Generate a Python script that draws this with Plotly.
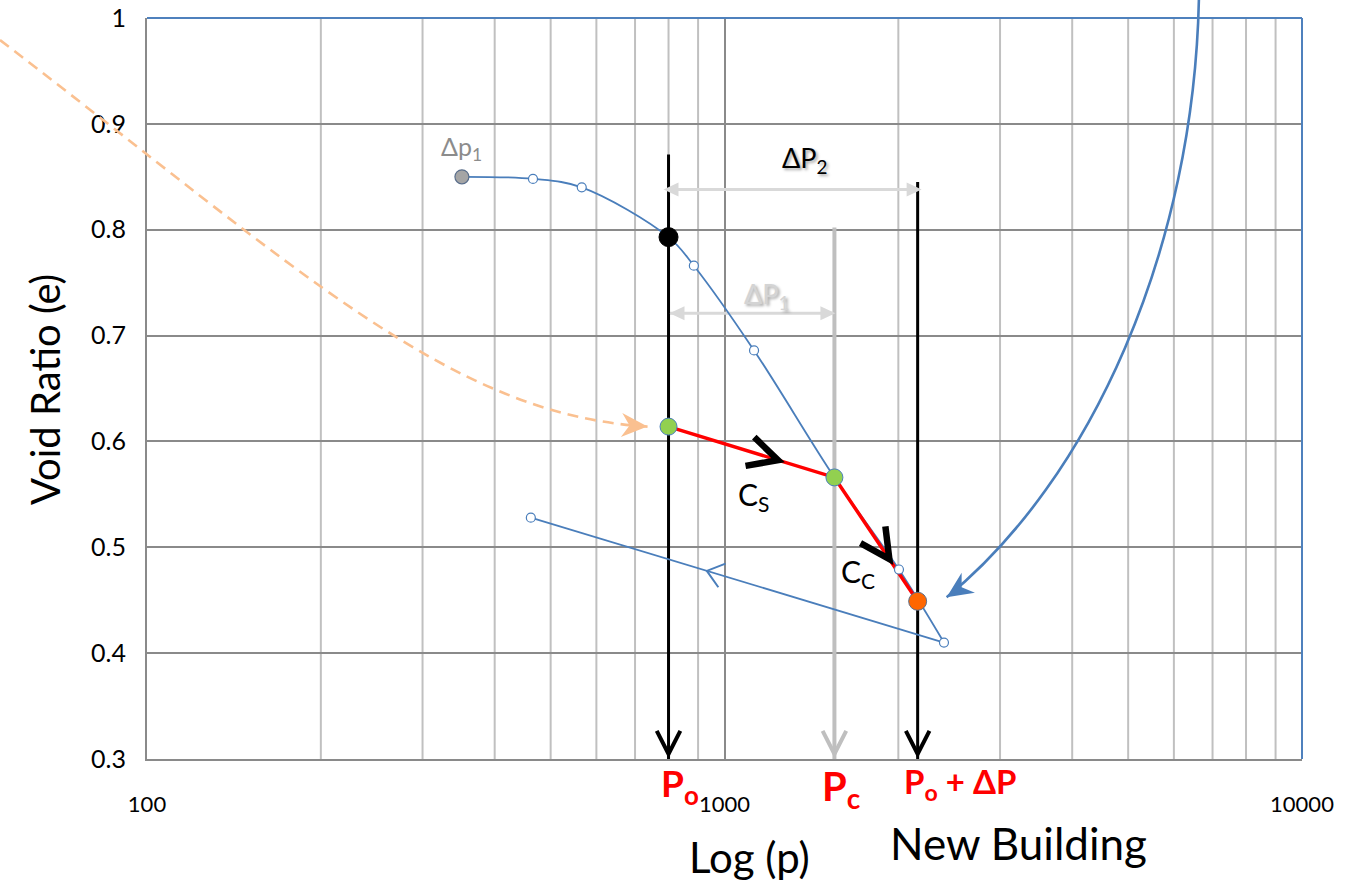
import numpy as np
import plotly.graph_objects as go

# ---------------- data (void ratio e vs. pressure p) ----------------
start_p, start_e = 351, 0.850                      # first load increment (Δp1)
lab_p = [466, 566, 885, 1125, 2005, 2399]          # measured oedometer points
lab_e = [0.848, 0.840, 0.766, 0.686, 0.479, 0.410]
rebound_p = [2399, 462]                            # unloading branch
rebound_e = [0.410, 0.528]

p_o = 800          # current overburden pressure
p_c = 1550         # preconsolidation pressure
p_new = 2160       # p_o + ΔP from the new building
e_lab_po = 0.793   # lab curve void ratio at p_o
field_p = [p_o, p_c, p_new]
field_e = [0.614, 0.566, 0.449]

top_po, top_pc, top_new = 0.871, 0.802, 0.845      # upper ends of the pressure lines
dp2_level, dp1_level = 0.838, 0.721                # ΔP2 / ΔP1 dimension lines

x_ticks = [100, 1000, 10000]
x_ticktext = ["100", "1000", "10000"]
x_minor = [200, 300, 400, 500, 600, 700, 800, 900,
           2000, 3000, 4000, 5000, 6000, 7000, 8000, 9000]
y_ticks = [0.3, 0.4, 0.5, 0.6, 0.7, 0.8, 0.9, 1.0]
y_ticktext = ["0.3", "0.4", "0.5", "0.6", "0.7", "0.8", "0.9", "1"]

# ---------------- layout geometry ----------------
W, H = 1345, 894
ML, MR, MT, MB = 147, 43, 18, 135
PW, PH = W - ML - MR, H - MT - MB
XR, YR = (2, 4), (0.3, 1.0)

FONT = "Lato, 'Open Sans', 'DejaVu Sans', sans-serif"
BLUE = "#4a7ebb"
GRID_MAJ = "#8a8a8a"
GRID_MIN = "#c0c0c0"


def px(p):
    return ML + (np.log10(p) - XR[0]) / (XR[1] - XR[0]) * PW


def py(e):
    return MT + (YR[1] - e) / (YR[1] - YR[0]) * PH


def paper(x, y):
    return (x - ML) / PW, (H - MB - y) / PH


def bezier_path(p0, c1, c2, p3):
    pts = [paper(*p) for p in (p0, c1, c2, p3)]
    s = [f"{x:.5f},{y:.5f}" for x, y in pts]
    return f"M{s[0]} C{s[1]} {s[2]} {s[3]}"


def _unit(dx, dy):
    n = np.hypot(dx, dy)
    return np.array([dx / n, dy / n])


def _rot(v, deg):
    a = np.radians(deg)
    return np.array([v[0] * np.cos(a) - v[1] * np.sin(a),
                     v[0] * np.sin(a) + v[1] * np.cos(a)])


def _anchor(shape, xd, yd, ref):
    shape.update(xsizemode="pixel", ysizemode="pixel", layer="above")
    if ref == "data":
        shape.update(xref="x", yref="y", xanchor=xd, yanchor=yd)
    else:
        shape.update(xref="paper", yref="paper", xanchor=xd, yanchor=yd)
    return shape


def chevron(xd, yd, dx, dy, arm, half, width, color, off=(0, 0), ref="data"):
    """Open arrowhead, vertex at the anchor (+ pixel offset), pointing along screen (dx, dy)."""
    d = _unit(dx, dy)
    v = np.array(off, float)
    e1 = v + _rot(-d, half) * arm
    e2 = v + _rot(-d, -half) * arm
    path = (f"M{e1[0]:.2f},{-e1[1]:.2f} L{v[0]:.2f},{-v[1]:.2f} "
            f"L{e2[0]:.2f},{-e2[1]:.2f}")
    return _anchor(dict(type="path", path=path, line=dict(color=color, width=width),
                        fillcolor="rgba(0,0,0,0)"), xd, yd, ref)


def solid_head(xd, yd, dx, dy, length, half_w, notch, color, off=(0, 0), ref="data"):
    """Filled arrowhead (flat or barbed back), tip at the anchor (+ pixel offset)."""
    d = _unit(dx, dy)
    n = np.array([-d[1], d[0]])
    t = np.array(off, float)
    b1 = t - d * length + n * half_w
    b2 = t - d * length - n * half_w
    m = t - d * (length - notch)
    pts = [t, b1, m, b2]
    path = "M" + " L".join(f"{p[0]:.2f},{-p[1]:.2f}" for p in pts) + " Z"
    return _anchor(dict(type="path", path=path, line=dict(color=color, width=0),
                        fillcolor=color), xd, yd, ref)


def along(p0, e0, p1, e1, f):
    lp = np.log10(p0) + f * (np.log10(p1) - np.log10(p0))
    return 10 ** lp, e0 + f * (e1 - e0)


fig = go.Figure()

# dimension lines ΔP2 / ΔP1
fig.add_trace(go.Scatter(x=[p_o, p_new], y=[dp2_level, dp2_level], mode="lines",
                         line=dict(color="#d9d9d9", width=3), hoverinfo="skip"))
fig.add_trace(go.Scatter(x=[p_o, p_c], y=[dp1_level, dp1_level], mode="lines",
                         line=dict(color="#d9d9d9", width=3), hoverinfo="skip"))

# pressure lines
fig.add_trace(go.Scatter(x=[p_c, p_c], y=[top_pc, YR[0]], mode="lines",
                         line=dict(color="#bfbfbf", width=4), hoverinfo="skip"))
fig.add_trace(go.Scatter(x=[p_o, p_o], y=[top_po, YR[0]], mode="lines",
                         line=dict(color="black", width=3), hoverinfo="skip"))
fig.add_trace(go.Scatter(x=[p_new, p_new], y=[top_new, YR[0]], mode="lines",
                         line=dict(color="black", width=3), hoverinfo="skip"))

# lab loading curve (smoothed)
curve = sorted(zip([start_p] + lab_p + [p_o, p_c],
                   [start_e] + lab_e + [e_lab_po, field_e[1]]))
fig.add_trace(go.Scatter(x=[c[0] for c in curve], y=[c[1] for c in curve],
                         mode="lines", line=dict(color=BLUE, width=1.8, shape="spline",
                                                 smoothing=1.0), hoverinfo="skip"))
# unloading branch
fig.add_trace(go.Scatter(x=rebound_p, y=rebound_e, mode="lines",
                         line=dict(color=BLUE, width=1.8), hoverinfo="skip"))
# field path (Cs then Cc)
fig.add_trace(go.Scatter(x=field_p, y=field_e, mode="lines",
                         line=dict(color="#ff0000", width=3.5), hoverinfo="skip"))

# markers
fig.add_trace(go.Scatter(x=lab_p + [rebound_p[1]], y=lab_e + [rebound_e[1]], mode="markers",
                         marker=dict(size=9, color="white", line=dict(color=BLUE, width=1.2))))
fig.add_trace(go.Scatter(x=[start_p], y=[start_e], mode="markers",
                         marker=dict(size=14, color="#a5a5a5", line=dict(color="#5b6f8c", width=1.2))))
fig.add_trace(go.Scatter(x=[p_o], y=[e_lab_po], mode="markers",
                         marker=dict(size=19, color="black", line=dict(color="black", width=1))))
fig.add_trace(go.Scatter(x=field_p[:2], y=field_e[:2], mode="markers",
                         marker=dict(size=17, color="#92d050", line=dict(color=BLUE, width=1))))
fig.add_trace(go.Scatter(x=[field_p[2]], y=[field_e[2]], mode="markers",
                         marker=dict(size=18, color="#ff6600", line=dict(color="#5b6f8c", width=1))))

# ---------------- guide connectors (pixel control points) ----------------
g1x, g1y = px(field_p[0]), py(field_e[0])
o_x, o_y = px(field_p[2]), py(field_e[2])
orange_off = (-21, 0)                       # tip left of the field point at p_o
blue_off = (29, -4)                         # tip right of the final point
orange_tip = (g1x + orange_off[0], g1y + orange_off[1])
blue_tip = (o_x + blue_off[0], o_y + blue_off[1])
orange_ctrl = [(0, 40), (300, 270), (450, 415)]
blue_ctrl = [(1199, -6), (1195, 250), (1090, 480)]

# minor (2..9 per decade) vertical gridlines, under the major grid
shapes = [dict(type="line", xref="x", yref="paper", x0=v, x1=v, y0=0, y1=1,
               line=dict(color=GRID_MIN, width=2), layer="below") for v in x_minor]

shapes += [
    dict(type="path", xref="paper", yref="paper",
         path=bezier_path(*orange_ctrl, orange_tip),
         line=dict(color="#fac090", width=2.6, dash="11px,7px"), layer="above"),
    dict(type="path", xref="paper", yref="paper",
         path=bezier_path(*blue_ctrl, blue_tip),
         line=dict(color=BLUE, width=2.6), layer="above"),
    # blue frame on top and right
    dict(type="line", xref="paper", yref="paper", x0=0, x1=1, y0=1, y1=1,
         line=dict(color="#4f81bd", width=2), layer="above"),
    dict(type="line", xref="paper", yref="paper", x0=1, x1=1, y0=0, y1=1,
         line=dict(color="#4f81bd", width=2), layer="above"),
]

# arrowheads on the pressure lines
for p, col in [(p_o, "black"), (p_c, "#bfbfbf"), (p_new, "black")]:
    shapes.append(chevron(p, YR[0], 0, 1, 26, 27, 4, col, off=(0, -5)))
# ΔP dimension heads
shapes += [
    solid_head(p_o, dp2_level, -1, 0, 15, 7, 0, "#d9d9d9", off=(-5, 0)),
    solid_head(p_new, dp2_level, 1, 0, 15, 7, 0, "#d9d9d9", off=(4, 0)),
    solid_head(p_o, dp1_level, -1, 0, 15, 7, 0, "#d9d9d9", off=(1, 0)),
    solid_head(p_c, dp1_level, 1, 0, 15, 7, 0, "#d9d9d9", off=(1, 0)),
]
# Cs / Cc chevrons on the field path
cs_p, cs_e = along(field_p[0], field_e[0], field_p[1], field_e[1], 0.66)
cc_p, cc_e = along(field_p[1], field_e[1], field_p[2], field_e[2], 0.66)
shapes.append(chevron(cs_p, cs_e, px(field_p[1]) - px(field_p[0]),
                      py(field_e[1]) - py(field_e[0]), 33, 27, 6.5, "black"))
shapes.append(chevron(cc_p, cc_e, px(field_p[2]) - px(field_p[1]),
                      py(field_e[2]) - py(field_e[1]), 33, 27, 6.5, "black"))
# unloading direction
ub_p, ub_e = along(rebound_p[0], rebound_e[0], rebound_p[1], rebound_e[1], 0.574)
shapes.append(chevron(ub_p, ub_e, px(rebound_p[1]) - px(rebound_p[0]),
                      py(rebound_e[1]) - py(rebound_e[0]), 20, 38, 2, BLUE))
# connector heads
shapes.append(solid_head(field_p[0], field_e[0], orange_tip[0] - orange_ctrl[2][0],
                         orange_tip[1] - orange_ctrl[2][1], 26, 12, 8, "#fac090",
                         off=orange_off))
shapes.append(solid_head(field_p[2], field_e[2], -1.5, 1, 26, 12, 8, BLUE, off=blue_off))


def label(text, x, y, size, color="black", ref="data", bold=False, shadow=None,
          xshift=0, yshift=0, xanchor="center", yanchor="middle", angle=0):
    f = dict(family=FONT, size=size, color=color, weight="bold" if bold else "normal")
    if shadow:
        f["shadow"] = shadow
    a = dict(text=text, showarrow=False, font=f, xshift=xshift, yshift=yshift,
             xanchor=xanchor, yanchor=yanchor, textangle=angle)
    if ref == "data":
        a.update(x=np.log10(x), y=y, xref="x", yref="y")
    else:
        a.update(x=x, y=y, xref="paper", yref="paper")
    return a


mid2 = 10 ** ((np.log10(p_o) + np.log10(p_new)) / 2)
mid1 = 10 ** ((np.log10(p_o) + np.log10(p_c)) / 2)
annotations = [
    label("Δp<sub>1</sub>", start_p, start_e, 25, color="#8c8c8c", yshift=29),
    label("ΔP<sub>2</sub>", mid2, dp2_level, 27, shadow="2px 2px 3px rgba(0,0,0,0.35)",
          xshift=12, yshift=30),
    label("ΔP<sub>1</sub>", mid1, dp1_level, 27, color="#d4d4d4",
          shadow="2px 2px 3px rgba(0,0,0,0.35)", xshift=16, yshift=18),
    label("C<sub>S</sub>", cs_p, cs_e, 30, xshift=-25, yshift=-36),
    label("C<sub>C</sub>", cc_p, cc_e, 30, xshift=-31, yshift=-14),
]
for txt, p, size, dx, ypx in [("<b>P<sub>o</sub></b>", p_o, 37, -10, 785),
                              ("<b>P<sub>c</sub></b>", p_c, 40, -14, 788),
                              ("<b>P<sub>o</sub> + ΔP</b>", p_new, 33, -16, 783)]:
    x_pap, _ = paper(px(p), 0)
    _, y_pap = paper(0, ypx)
    annotations.append(label(txt, x_pap, y_pap, size, color="#ff0000", ref="paper",
                             xshift=dx, xanchor="left"))

for txt, cx, cy, size, ang in [("Log (p)", 749, 857, 42, 0),
                               ("New Building", 1018, 843, 44, 0),
                               ("Void Ratio (e)", 45, 390, 40, -90)]:
    x_pap, y_pap = paper(cx, cy)
    annotations.append(label(txt, x_pap, y_pap, size, ref="paper", angle=ang))

fig.update_layout(
    width=W, height=H,
    margin=dict(l=ML, r=MR, t=MT, b=MB, pad=0),
    paper_bgcolor="white", plot_bgcolor="white",
    showlegend=False,
    font=dict(family=FONT, color="black"),
    shapes=shapes, annotations=annotations,
    xaxis=dict(type="log", range=list(XR), tickvals=x_ticks, ticktext=x_ticktext,
               automargin=False,
               showgrid=True, gridcolor=GRID_MAJ, gridwidth=2,
               showline=True, linecolor="#8a8a8a", linewidth=2, ticks="",
               tickfont=dict(family=FONT, size=22, color="black"),
               ticklabelstandoff=25, zeroline=False),
    yaxis=dict(range=list(YR), tickvals=y_ticks, ticktext=y_ticktext,
               automargin=False,
               showgrid=True, gridcolor=GRID_MAJ, gridwidth=2,
               showline=True, linecolor="#8a8a8a", linewidth=2, ticks="",
               tickfont=dict(family=FONT, size=25, color="black"),
               ticklabelstandoff=14, zeroline=False),
)

fig.write_html("out.html")
